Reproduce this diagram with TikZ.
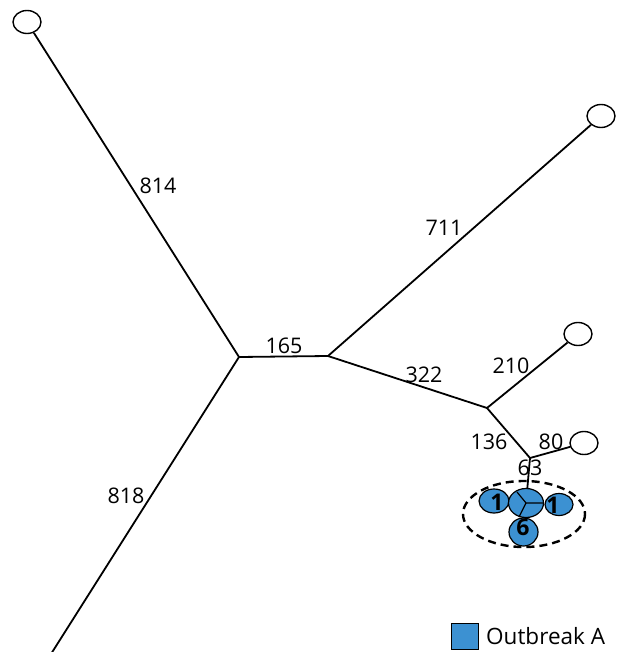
\documentclass[tikz,border=0pt]{standalone}
\usepackage{fontspec}
\setmainfont{Open Sans}
\definecolor{obblue}{RGB}{60,145,210}
\tikzset{
  leaf/.style={draw=black, line width=1.4pt, fill=white, ellipse, minimum width=28pt, minimum height=23pt, inner sep=0pt},
  obnode/.style={draw=black, line width=1.2pt, fill=obblue, ellipse, inner sep=0pt},
  edge/.style={line width=1.8pt, black},
  elab/.style={font=\fontsize{21.5}{24}\selectfont, inner sep=0pt},
  nlab/.style={font=\fontsize{23}{25}\selectfont\bfseries, inner sep=0pt},
}
\usetikzlibrary{shapes.geometric}
\begin{document}
\begin{tikzpicture}[x=1pt,y=-1pt]
\useasboundingbox (0,0) rectangle (616,652);
% hubs
\coordinate (h1) at (239,357);
\coordinate (h2) at (328,356);
\coordinate (h3) at (487,408);
\coordinate (h4) at (530,458);
\coordinate (bl) at (51,654);
% leaves
\node[leaf] (tl) at (27,22) {};
\node[leaf] (tr) at (601,116) {};
\node[leaf] (l210) at (578,334) {};
\node[leaf] (l80) at (584,443) {};
% outbreak cluster
\draw[line width=2.4pt, dash pattern=on 8pt off 5pt] (524,514) ellipse [x radius=61, y radius=33];
\node[obnode, minimum width=29pt, minimum height=28pt] (b6) at (523.5,532) {};
\node[obnode, minimum width=30pt, minimum height=24pt] (bl1) at (494,501) {};
\node[obnode, minimum width=28pt, minimum height=22pt] (br1) at (559,504.5) {};
\node[obnode, minimum width=35pt, minimum height=29pt] (bc) at (526,503) {};
\draw[line width=1.2pt] (bc.center) -- (517,492) (bc.center) -- (543,503) (bc.center) -- (519,517);
\node[nlab] at (497,502) {1};
\node[nlab] at (553,505) {1};
\node[nlab] at (523,527) {6};
% edges
\draw[edge] (h1) -- (tl);
\draw[edge] (h1) -- (bl);
\draw[edge] (h1) -- (h2);
\draw[edge] (h2) -- (tr);
\draw[edge] (h2) -- (h3);
\draw[edge] (h3) -- (l210);
\draw[edge] (h3) -- (h4);
\draw[edge] (h4) -- (l80);
\draw[edge] (h4) -- (bc);
% labels
\node[elab] at (158,186) {814};
\node[elab] at (126,496) {818};
\node[elab] at (284,346) {165};
\node[elab] at (444,228) {711};
\node[elab] at (424,375) {322};
\node[elab] at (511,366) {210};
\node[elab] at (489,442) {136};
\node[elab] at (551,442) {80};
\node[elab] at (530,468) {63};
% legend
\node[draw=black, line width=1pt, fill=obblue, minimum width=27pt, minimum height=26pt, inner sep=0pt] (lg) at (465,636) {};
\node[elab, anchor=west, font=\fontsize{22.5}{25}\selectfont] (lgt) at (486,636) {Outbreak A};
\end{tikzpicture}
\end{document}
